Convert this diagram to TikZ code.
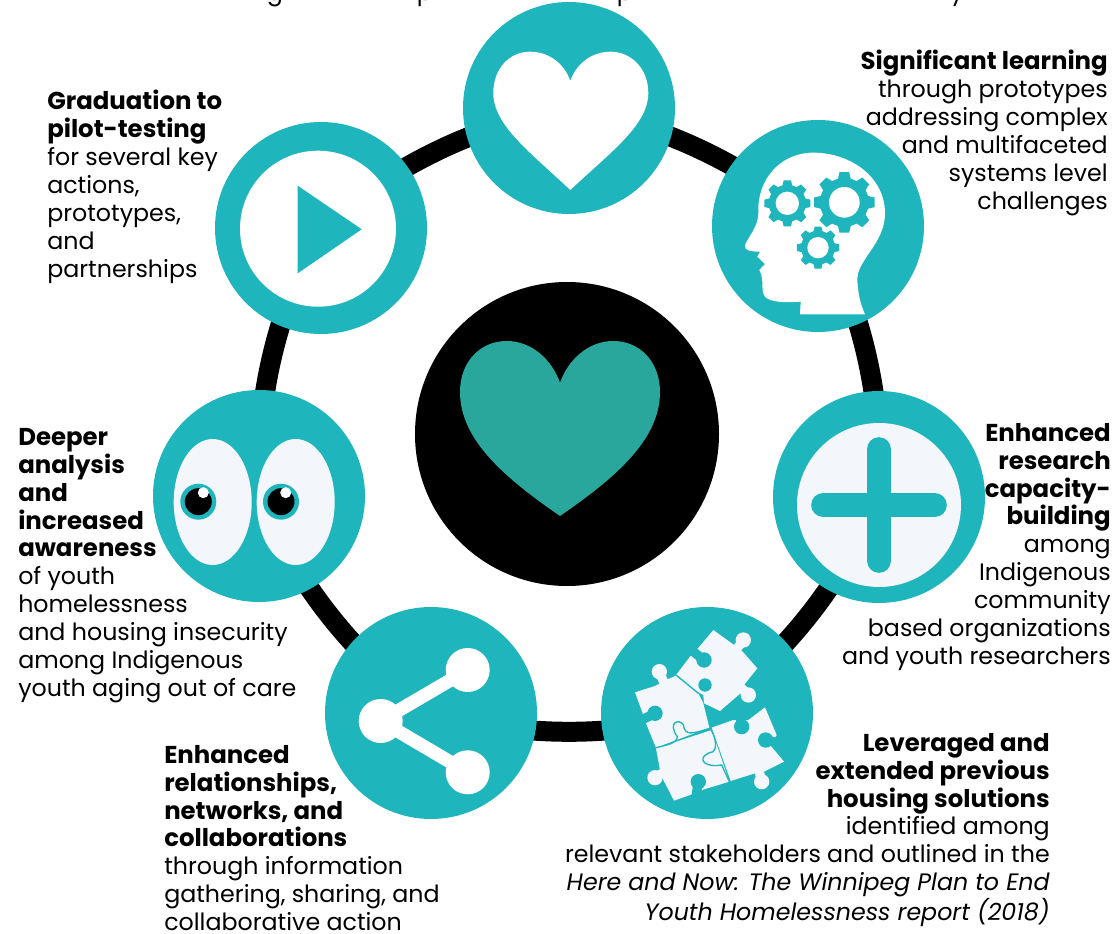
\documentclass[tikz,border=0pt]{standalone}
\usepackage{fontspec}
\setmainfont{Poppins}
\usetikzlibrary{backgrounds,calc}
\definecolor{teal1}{HTML}{1EB5BC}
\definecolor{heartc}{HTML}{29A79C}
\definecolor{paper}{HTML}{F3F6FA}
\tikzset{
  disc/.style={circle,fill=teal1,minimum size=212*0.75pt,inner sep=0pt},
  ringlink/.style={line width=15pt,black,bend left=15,looseness=.9},
  lab/.style={inner sep=0pt,font=\fontsize{17.8}{20.9}\selectfont},
  labr/.style={lab,anchor=north east,align=right},
  labl/.style={lab,anchor=north west,align=left},
  cut/.style={lab,anchor=base},
  seam/.style={teal1,line width=1pt}
}
\newcommand{\hd}[1]{{\fontsize{18.3}{20.9}\selectfont\bfseries #1}}
\newcommand{\gearshape}[4]{% x, y, outer radius, hole radius
  \fill[teal1] ($(#1,#2)+(9:#3)$)
    \foreach \a in {0,45,...,315}{
      -- ($(#1,#2)+(\a+9:#3)$) -- ($(#1,#2)+(\a+15:0.8*#3)$) -- ($(#1,#2)+(\a+30:0.8*#3)$) -- ($(#1,#2)+(\a+36:#3)$)
    } -- cycle;
  \fill[white] (#1,#2) circle (#4);
}
% puzzle tab (paper) and notch (teal): centre x, y, neck end x, y
\newcommand{\knob}[5]{%
  \draw[#1,line width=7pt] (#2,#3) -- (#4,#5);
  \fill[#1] (#2,#3) circle (23);
}
\begin{document}
\begin{tikzpicture}[x=0.75pt,y=-0.75pt]
\useasboundingbox (0,0) rectangle (1118,934);
% main discs
\node[disc] (top) at (569,108) {};
\node[disc] (head) at (818,226) {};
\node[disc] (plus) at (879,497) {};
\node[disc] (puzzle) at (707,713) {};
\node[disc] (share) at (431,713) {};
\node[disc] (eyes) at (259,496) {};
\node[disc] (play) at (321,228) {};
\node[circle,fill=black,minimum size=304*0.75pt,inner sep=0pt] (hub) at (567,434) {};
\begin{pgfonlayer}{background}
\draw[ringlink] (top.center) to (head.center);
\draw[ringlink] (head.center) to (plus.center);
\draw[ringlink] (plus.center) to (puzzle.center);
\draw[ringlink] (puzzle.center) to (share.center);
\draw[ringlink] (share.center) to (eyes.center);
\draw[ringlink] (eyes.center) to (play.center);
\draw[ringlink] (play.center) to (top.center);
\end{pgfonlayer}
% hub heart
\fill[heartc] (560,516) .. controls (505,478) and (460,440) .. (460,392)
  .. controls (460,362) and (480,341) .. (506.7,341)
  .. controls (532,341) and (552,360) .. (560,382.7)
  .. controls (568,360) and (588,341) .. (613.3,341)
  .. controls (640,341) and (660,362) .. (660,392)
  .. controls (660,440) and (615,478) .. (560,516) -- cycle;
% top heart
\fill[white] (570.3,190) .. controls (530,152) and (493.3,125) .. (493.3,93)
  .. controls (493.3,68) and (510,51.7) .. (530,51.7)
  .. controls (550,51.7) and (565,65) .. (570.3,81)
  .. controls (575.6,65) and (590.6,51.7) .. (610.6,51.7)
  .. controls (630.6,51.7) and (648.3,68) .. (648.3,93)
  .. controls (648.3,125) and (610.6,152) .. (570.3,190) -- cycle;
% head
\begin{scope}[shift={(710,120)},scale=1/3]
\fill[white] (270,583) -- (272,545) .. controls (230,548) and (180,548) .. (165,530)
  .. controls (150,510) and (165,480) .. (148,450) -- (165,432) -- (142,410) -- (150,395)
  .. controls (125,395) and (100,392) .. (105,375)
  .. controls (115,350) and (145,320) .. (145,280)
  .. controls (140,180) and (210,98) .. (310,98)
  .. controls (420,98) and (525,170) .. (525,280)
  .. controls (525,370) and (440,420) .. (442,480)
  .. controls (444,530) and (455,560) .. (465,583) -- cycle;
\gearshape{232}{250}{70}{35}
\gearshape{403}{247}{92}{46}
\gearshape{324}{383}{64}{32}
\end{scope}
% plus
\fill[paper] (879,505) circle (82);
\draw[teal1,line width=18.5pt,line cap=round] (823.5,505) -- (934.5,505);
\draw[teal1,line width=18.5pt,line cap=round] (879,449.5) -- (879,560.5);
% puzzle
\begin{scope}[shift={(600,605)},scale=1/3]
\fill[paper] (340,75) -- (405,122) -- (428,140) -- (472,190) -- (432,240) -- (418,268) -- (360,318) -- (312,295) -- (310,270) -- (295,262) -- (228,210) -- (270,155) -- (298,125) -- cycle;
\knob{paper}{430}{105}{410}{132}
\knob{paper}{445}{270}{420}{245}
\knob{teal1}{312}{165}{280}{140}
\fill[teal1] (315,240) circle (20);
\fill[paper] (105,262) -- (165,243) -- (205,222) -- (228,212) -- (295,265) -- (310,295) -- (328,368) -- (168,428) -- (142,365) -- (128,325) -- cycle;
\knob{paper}{178}{200}{195}{240}
\knob{teal1}{165}{325}{115}{350}
\fill[paper] (168,430) -- (335,375) -- (388,530) -- (315,552) -- (270,570) -- (222,587) -- (190,525) -- (180,495) -- cycle;
\knob{paper}{165}{518}{195}{500}
\knob{teal1}{295}{530}{288}{575}
\fill[paper] (335,368) -- (400,345) -- (445,345) -- (495,307) -- (530,390) -- (510,420) -- (552,470) -- (492,500) -- (465,505) -- (392,528) -- cycle;
\knob{paper}{485}{530}{475}{490}
\knob{teal1}{425}{365}{420}{330}
\knob{teal1}{497}{405}{540}{415}
\draw[seam] (168,428) .. controls (200,420) and (232,415) .. (232,395) .. controls (200,350) and (240,340) .. (250,360) .. controls (255,395) and (280,385) .. (330,370) .. controls (350,400) and (350,430) .. (340,440) .. controls (290,450) and (300,490) .. (365,480) -- (388,530);
\draw[seam] (228,210) -- (295,265);
\end{scope}
% share
\draw[white,line width=10pt] (467.7,670) -- (380.7,721) -- (467.7,772.3);
\fill[white] (380.7,721) circle (22) (467.7,670) circle (22) (467.7,772.3) circle (22);
% eyes
\fill[paper] (212.7,502) ellipse (39 and 63) (295.7,502) ellipse (39 and 63);
\fill[teal1] (198.3,501.7) circle (18) (281,501.7) circle (18);
\fill[black] (198.3,501.7) circle (13.5) (281,501.7) circle (13.5);
\fill[white] (203.3,492.7) circle (5.5) (285.7,492.7) circle (5.5);
% play
\fill[white] (318,228.7) circle (78);
\fill[teal1] (297.7,185.7) -- (361.7,229.3) -- (297.7,273.3) -- cycle;
% text cut off at the top edge
\begin{scope}
\clip (0,0) rectangle (1118,7);
\node[cut] (c1) at (275,1) {g};
\node[cut] (c2) at (425,1) {p};
\node[cut] (c3) at (625,1) {p};
\node[cut] (c4) at (957,1) {y};
\end{scope}
% labels
\node[labl] (t1) at (47,90) {\hd{Graduation to}\\\hd{pilot-testing}\\for several key\\actions,\\prototypes,\\and\\partnerships};
\node[labr] (t2) at (1108,50) {\hd{Significant learning}\\through prototypes\\addressing complex\\and multifaceted\\systems level\\challenges};
\node[labr] (t3) at (1111,423) {\hd{Enhanced}\\\hd{research}\\\hd{capacity-}\\\hd{building}\\among\\Indigenous\\community\\based organizations\\and youth researchers};
\node[labl] (t4) at (18,428) {\hd{Deeper}\\\hd{analysis}\\\hd{and}\\\hd{increased}\\\hd{awareness}\\of youth\\homelessness\\and housing insecurity\\among Indigenous\\youth aging out of care};
\node[labl] (t5) at (164,745) {\hd{Enhanced}\\\hd{relationships,}\\\hd{networks, and}\\\hd{collaborations}\\through information\\gathering, sharing, and\\collaborative action};
\node[labr] (t6) at (1050,733) {\hd{Leveraged and}\\\hd{extended previous}\\\hd{housing solutions}\\identified among\\relevant stakeholders and outlined in the\\\textit{Here and Now: The Winnipeg Plan to End}\\\textit{Youth Homelessness report (2018)}};
\end{tikzpicture}
\end{document}
